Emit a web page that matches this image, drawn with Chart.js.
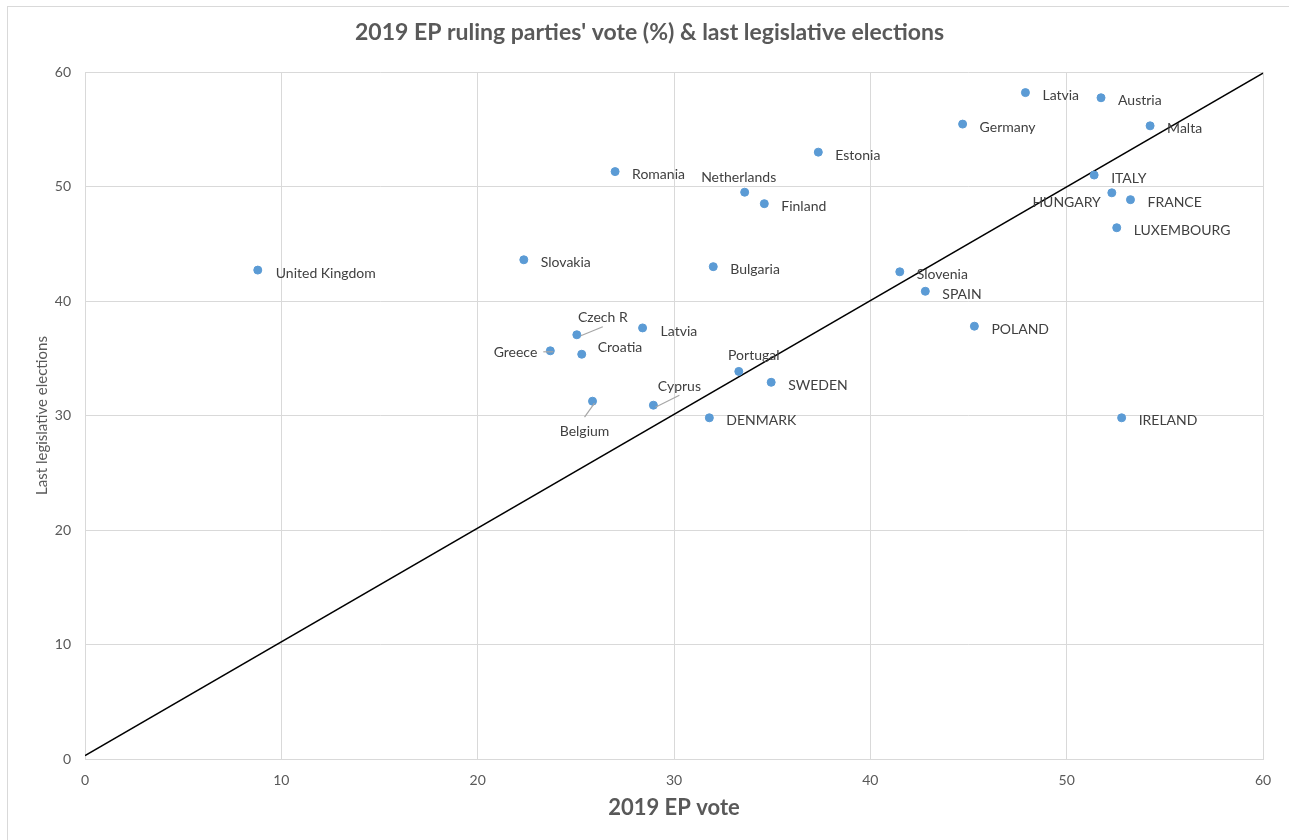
<!DOCTYPE html>
<html><head><meta charset="utf-8">
<script src="https://cdn.jsdelivr.net/npm/chart.js@4.4.1/dist/chart.umd.min.js"></script>
<style>html,body{margin:0;padding:0;background:#fff}#wrap{width:1289px;height:840px;position:relative}canvas{display:block}</style>
</head><body><div id="wrap"><canvas id="c" width="1289" height="840"></canvas></div>
<script>
// ---- data ----
const countries = ["United Kingdom","Slovakia","Romania","Netherlands","Finland","Estonia","Bulgaria","Germany","Latvia","Austria","Malta","ITALY","HUNGARY","FRANCE","LUXEMBOURG","Slovenia","SPAIN","POLAND","IRELAND","Czech R","Latvia","Greece","Croatia","Portugal","SWEDEN","Belgium","Cyprus","DENMARK"];
const epVote   = [8.8,22.35,27.0,33.6,34.6,37.35,32.0,44.7,47.9,51.75,54.25,51.4,52.3,53.25,52.55,41.5,42.8,45.3,52.8,25.05,28.4,23.7,25.3,33.3,34.95,25.85,28.95,31.8];
const legVote  = [42.7,43.6,51.3,49.5,48.5,53.0,43.0,55.45,58.2,57.75,55.3,51.0,49.45,48.85,46.4,42.55,40.85,37.8,29.8,37.05,37.65,35.65,35.35,33.85,32.9,31.25,30.9,29.8];
const trendX = [0, 60];
const trendY = [0.3, 59.9];
const axisMin = 0, axisMax = 60, axisStep = 10;
const chartTitle = "2019 EP ruling parties' vote (%) & last legislative elections";
const xTitle = "2019 EP vote";
const yTitle = "Last legislative elections";

// ---- label placement (styling only) ----
const FONT = "Lato, 'Open Sans', sans-serif";
const defaultLabel = {dx: 17, dy: 3, align: 'left'};
const labelTweaks = {
  3:  {dx: -6, dy: -15, align: 'center'},
  12: {dx: -11, dy: 10, align: 'right'},
  23: {dx: 15, dy: -16, align: 'center'},
  26: {dx: 26, dy: -19, align: 'center', leader: [2, 2, 26, -10]},
  25: {dx: -8, dy: 30, align: 'center', leader: [2, 2, -8, 16]},
  21: {dx: -13, dy: 2, align: 'right', leader: [-7, 1, 3, 1]},
  19: {dx: 26, dy: -17, align: 'center', leader: [4, 1, 26, -8]},
  22: {dx: 16, dy: -7, align: 'left'},
  20: {dx: 18, dy: 4, align: 'left'},
  0:  {dx: 18, dy: 3, align: 'left'}
};

const points = epVote.map((v, i) => ({x: v, y: legVote[i]}));
const trend = trendX.map((v, i) => ({x: v, y: trendY[i]}));

const decor = {
  id: 'decor',
  beforeDraw(chart) {
    const c = chart.ctx;
    c.save();
    c.fillStyle = '#fff';
    c.fillRect(0, 0, chart.width, chart.height);
    c.strokeStyle = '#d9d9d9';
    c.lineWidth = 1;
    c.strokeRect(7.5, 6.5, chart.width + 20, chart.height + 20);
    c.restore();
  },
  afterDatasetsDraw(chart) {
    const c = chart.ctx;
    const meta = chart.getDatasetMeta(1);
    c.save();
    c.font = "14px " + FONT;
    c.fillStyle = '#404040';
    c.textBaseline = 'middle';
    meta.data.forEach((el, i) => {
      const t = Object.assign({}, defaultLabel, labelTweaks[i] || {});
      if (t.leader) {
        c.strokeStyle = '#a6a6a6';
        c.lineWidth = 1.2;
        c.beginPath();
        c.moveTo(el.x + t.leader[0], el.y + t.leader[1]);
        c.lineTo(el.x + t.leader[2], el.y + t.leader[3]);
        c.stroke();
      }
      c.textAlign = t.align;
      c.fillText(countries[i], el.x + t.dx, el.y + t.dy);
    });
    // chart title
    c.font = "bold 23px " + FONT;
    c.fillStyle = '#595959';
    c.textAlign = 'center';
    c.fillText(chartTitle, 649.5, 33);
    c.restore();
  }
};

new Chart(document.getElementById('c'), {
  type: 'scatter',
  data: {
    datasets: [
      {type: 'line', data: trend, borderColor: '#000', borderWidth: 1.6, pointRadius: 0, fill: false, order: 2},
      {data: points, backgroundColor: '#5b9bd5', borderColor: '#5b9bd5', pointRadius: 4, pointHoverRadius: 4, order: 1}
    ]
  },
  options: {
    responsive: false,
    animation: false,
    events: [],
    layout: {padding: {left: 0, right: 26, top: 72, bottom: 0}},
    plugins: {
      legend: {display: false},
      tooltip: {enabled: false},
      title: {display: false}
    },
    scales: {
      x: {
        type: 'linear', min: axisMin, max: axisMax,
        ticks: {stepSize: axisStep, color: '#595959', font: {family: FONT, size: 14}, padding: 13},
        grid: {color: '#d9d9d9', lineWidth: 1, drawTicks: false},
        border: {color: '#d9d9d9'},
        title: {display: true, text: xTitle, color: '#595959', font: {family: FONT, size: 22, weight: 'bold', lineHeight: 1.2}, padding: {top: 0, bottom: 18.8}},
        afterFit(s) { s.height = 81; }
      },
      y: {
        type: 'linear', min: axisMin, max: axisMax,
        ticks: {stepSize: axisStep, color: '#595959', font: {family: FONT, size: 14}, padding: 14},
        grid: {color: '#d9d9d9', lineWidth: 1, drawTicks: false},
        border: {color: '#d9d9d9'},
        title: {display: true, text: yTitle, color: '#595959', font: {family: FONT, size: 15, lineHeight: 1.2}, padding: {top: 33, bottom: 0}},
        afterFit(s) { s.width = 85; }
      }
    }
  },
  plugins: [decor]
});
</script></body></html>
